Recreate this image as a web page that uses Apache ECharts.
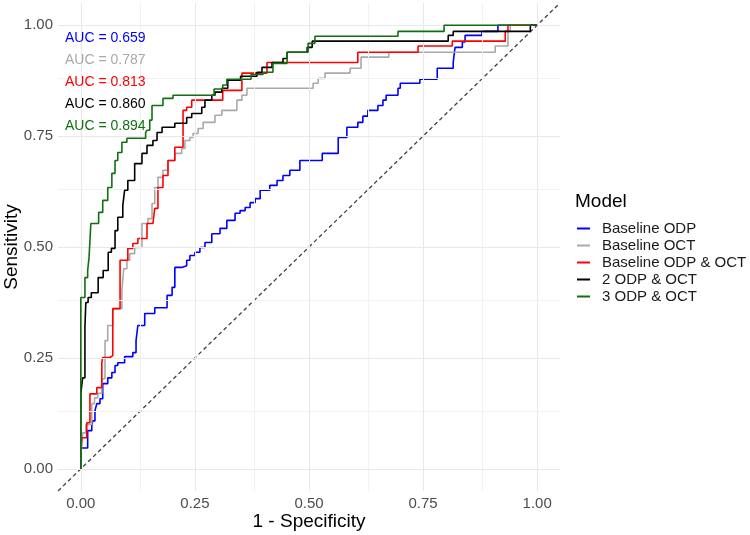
<html>
<head>
<meta http-equiv="Content-Type" content="text/html; charset=utf-8" />
<style type="text/css">
body {margin: 0; background: #fff}
</style>
</head>
<body>
<div id="main" style="width:750px;height:535px;"></div>
</body>

<script src="https://cdn.jsdelivr.net/npm/echarts@6/dist/echarts.min.js"></script>
<script type="text/javascript">

// ROC points: [1 - specificity, sensitivity], step at each new x
var baselineODP = [[0,0],[0,0.047],[0.015,0.086],[0.024,0.097],[0.026,0.108],[0.031,0.131],[0.035,0.147],[0.042,0.158],[0.048,0.192],[0.059,0.205],[0.068,0.217],[0.075,0.233],[0.081,0.239],[0.096,0.253],[0.114,0.262],[0.121,0.289],[0.125,0.323],[0.14,0.35],[0.162,0.363],[0.189,0.391],[0.2,0.409],[0.206,0.454],[0.221,0.458],[0.232,0.47],[0.239,0.481],[0.25,0.488],[0.261,0.499],[0.272,0.51],[0.287,0.53],[0.305,0.542],[0.32,0.56],[0.338,0.576],[0.349,0.582],[0.36,0.589],[0.371,0.6],[0.382,0.609],[0.393,0.628],[0.414,0.639],[0.43,0.65],[0.443,0.661],[0.458,0.673],[0.48,0.695],[0.529,0.711],[0.564,0.747],[0.583,0.77],[0.607,0.781],[0.618,0.795],[0.629,0.808],[0.651,0.819],[0.662,0.831],[0.669,0.842],[0.695,0.858],[0.7,0.869],[0.743,0.878],[0.781,0.903],[0.816,0.916],[0.82,0.95],[0.836,0.962],[0.842,0.977],[0.879,0.986],[0.914,1],[1,1]];
var baselineOCT = [[0,0],[0,0.03],[0.004,0.081],[0.011,0.1],[0.024,0.147],[0.03,0.16],[0.037,0.17],[0.046,0.203],[0.053,0.289],[0.059,0.323],[0.07,0.361],[0.09,0.402],[0.094,0.451],[0.101,0.47],[0.107,0.485],[0.118,0.499],[0.134,0.553],[0.147,0.564],[0.156,0.598],[0.162,0.634],[0.169,0.657],[0.18,0.673],[0.191,0.695],[0.206,0.711],[0.221,0.722],[0.228,0.74],[0.239,0.747],[0.246,0.756],[0.257,0.767],[0.268,0.781],[0.294,0.797],[0.309,0.808],[0.342,0.831],[0.353,0.842],[0.364,0.858],[0.509,0.869],[0.52,0.88],[0.535,0.892],[0.59,0.903],[0.614,0.928],[0.675,0.939],[0.908,0.953],[0.936,0.986],[0.941,1],[1,1]];
var baselineBoth = [[0,0],[0,0.023],[0.002,0.07],[0.013,0.104],[0.02,0.169],[0.035,0.183],[0.046,0.239],[0.048,0.251],[0.064,0.255],[0.07,0.361],[0.086,0.47],[0.103,0.497],[0.114,0.508],[0.125,0.519],[0.145,0.553],[0.158,0.555],[0.162,0.587],[0.169,0.634],[0.18,0.661],[0.191,0.695],[0.206,0.725],[0.224,0.808],[0.232,0.815],[0.243,0.831],[0.311,0.853],[0.353,0.892],[0.408,0.916],[0.607,0.939],[0.739,0.953],[0.814,0.964],[0.93,0.986],[0.936,1],[1,1]];
var odp2 = [[0,0],[0,0.17],[0.004,0.205],[0.009,0.32],[0.011,0.375],[0.016,0.386],[0.023,0.397],[0.038,0.431],[0.049,0.447],[0.06,0.488],[0.067,0.497],[0.075,0.537],[0.081,0.567],[0.092,0.594],[0.096,0.628],[0.103,0.65],[0.118,0.688],[0.134,0.711],[0.145,0.729],[0.158,0.74],[0.167,0.758],[0.178,0.77],[0.206,0.779],[0.232,0.792],[0.243,0.801],[0.265,0.815],[0.272,0.831],[0.287,0.842],[0.294,0.849],[0.309,0.858],[0.322,0.876],[0.35,0.885],[0.386,0.894],[0.397,0.905],[0.419,0.916],[0.443,0.925],[0.452,0.939],[0.496,0.95],[0.507,0.964],[0.805,0.977],[0.816,0.986],[0.985,1],[1,1]];
var odp3 = [[0,0],[0,0.386],[0.009,0.431],[0.015,0.447],[0.018,0.476],[0.022,0.553],[0.039,0.578],[0.048,0.605],[0.059,0.634],[0.068,0.666],[0.075,0.695],[0.081,0.713],[0.09,0.736],[0.101,0.745],[0.142,0.758],[0.145,0.763],[0.151,0.786],[0.156,0.819],[0.18,0.835],[0.202,0.842],[0.292,0.856],[0.311,0.865],[0.32,0.878],[0.373,0.889],[0.399,0.894],[0.421,0.914],[0.452,0.939],[0.498,0.959],[0.513,0.975],[0.695,0.986],[0.796,1],[1,1]];

var modelNames = ['Baseline ODP', 'Baseline OCT', 'Baseline ODP & OCT', '2 ODP & OCT', '3 ODP & OCT'];
var modelColors = ['#0000ff', '#a9a9a9', '#ff0000', '#000000', '#107010'];
var aucLabels = ['AUC = 0.659', 'AUC = 0.787', 'AUC = 0.813', 'AUC = 0.860', 'AUC = 0.894'];
var tickValues = [0, 0.25, 0.5, 0.75, 1];
var minorValues = [0.125, 0.375, 0.625, 0.875];
var chanceLine = [[-0.05, -0.05], [1.05, 1.05]];

var curves = [baselineODP, baselineOCT, baselineBoth, odp2, odp3];
var fontFam = '"Liberation Sans", Arial, sans-serif';

var myChart = echarts.init(document.getElementById('main'));

function gridLines(vals, color) {
    var out = [];
    vals.forEach(function (v) {
        out.push({xAxis: v, lineStyle: {color: color}});
        out.push({yAxis: v, lineStyle: {color: color}});
    });
    return out;
}

var series = [{
    name: 'grid',
    type: 'line',
    data: [],
    z: 0,
    silent: true,
    markLine: {
        symbol: 'none',
        silent: true,
        animation: false,
        label: {show: false},
        lineStyle: {type: 'solid', width: 1},
        data: gridLines(minorValues, '#f2f2f2').concat(gridLines(tickValues, '#e8e8e8'))
    }
}, {
    name: 'chance',
    type: 'line',
    data: chanceLine,
    showSymbol: false,
    silent: true,
    z: 1,
    lineStyle: {color: '#404040', width: 1.3, type: [4, 3]}
}];

curves.forEach(function (d, i) {
    series.push({
        name: modelNames[i],
        type: 'line',
        step: 'end',
        data: d,
        showSymbol: false,
        z: 2 + i,
        color: modelColors[i],
        lineStyle: {width: 1.6, color: modelColors[i]}
    });
});

var graphics = aucLabels.map(function (t, i) {
    return {
        type: 'text',
        x: 65,
        y: 38 + i * 22,
        z: 100,
        style: {text: t, fill: modelColors[i], font: '14px ' + fontFam, verticalAlign: 'middle'}
    };
});
graphics.push({
    type: 'text',
    x: 575,
    y: 202,
    style: {text: 'Model', fill: '#000', font: '19px ' + fontFam, verticalAlign: 'middle'}
});

option = {
    animation: false,
    textStyle: {fontFamily: fontFam},
    grid: {left: 58, right: 190, top: 3, bottom: 44, containLabel: false, outerBoundsMode: 'none'},
    legend: {
        data: modelNames,
        orient: 'vertical',
        left: 577,
        top: 220,
        padding: 0,
        itemGap: 0,
        icon: 'rect',
        itemWidth: 13,
        itemHeight: 2,
        textStyle: {fontSize: 15, color: '#1a1a1a', lineHeight: 17, padding: [0, 0, 0, 7]}
    },
    xAxis: {
        type: 'value',
        min: -0.05,
        max: 1.05,
        name: '1 - Specificity',
        nameLocation: 'middle',
        nameGap: 21,
        nameMoveOverlap: false,
        nameTextStyle: {fontSize: 19, color: '#000'},
        axisLine: {show: false},
        axisTick: {show: false},
        splitLine: {show: false},
        axisLabel: {
            customValues: tickValues,
            fontSize: 15,
            color: '#4d4d4d',
            margin: 5,
            formatter: function (v) { return v.toFixed(2); }
        }
    },
    yAxis: {
        type: 'value',
        min: -0.05,
        max: 1.05,
        name: 'Sensitivity',
        nameLocation: 'middle',
        nameGap: 37,
        nameMoveOverlap: false,
        nameTextStyle: {fontSize: 19, color: '#000'},
        axisLine: {show: false},
        axisTick: {show: false},
        splitLine: {show: false},
        axisLabel: {
            customValues: tickValues,
            fontSize: 15,
            color: '#4d4d4d',
            margin: 5,
            formatter: function (v) { return v.toFixed(2); }
        }
    },
    graphic: graphics,
    series: series
};

myChart.setOption(option);
</script>
</html>
